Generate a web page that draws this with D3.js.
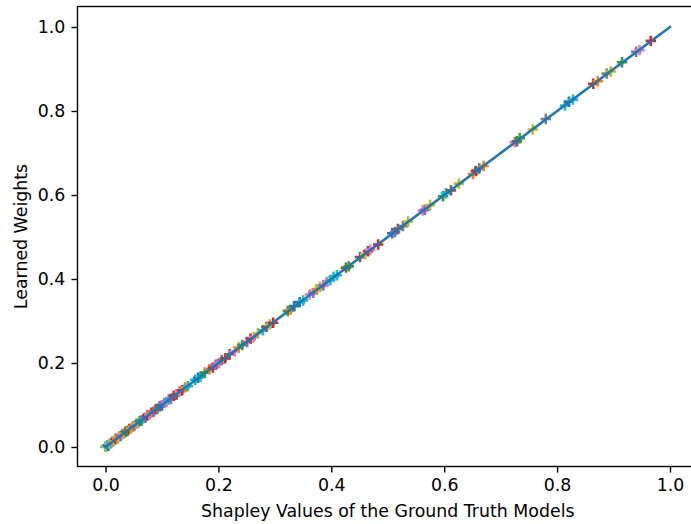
<!DOCTYPE html>
<html>
<head>
<meta charset="utf-8">
<script src="https://cdn.jsdelivr.net/npm/d3@7"></script>
<style>
  html, body { margin: 0; padding: 0; background: #fff; }
  svg { display: block; }
  text { font-family: "DejaVu Sans", sans-serif; }
</style>
</head>
<body>
<svg id="chart" width="691" height="524"></svg>
<script>
// ---- data ----
const shapley = [
  0.000,0.001,0.003,0.005,0.007,0.010,0.012,0.015,0.018,0.021,
  0.024,0.027,0.030,0.033,0.036,0.039,0.042,0.045,0.048,0.051,
  0.055,0.058,0.061,0.064,0.068,0.071,0.074,0.078,0.081,0.085,
  0.089,0.092,0.096,0.100,0.104,0.108,0.112,0.116,0.121,0.126,
  0.131,0.136,0.141,0.146,0.159,0.164,0.168,0.176,0.184,0.190,
  0.195,0.201,0.206,
  0.212,0.220,0.229,0.236,0.242,0.251,0.257,0.263,0.270,0.279,
  0.285,0.291,0.297,0.323,0.328,0.334,0.344,0.350,0.362,0.368,
  0.374,0.380,0.386,0.392,0.398,0.404,0.410,0.426,0.431,0.451,
  0.460,0.465,0.469,0.483,0.508,0.513,0.518,0.527,0.536,0.562,
  0.566,0.575,0.598,0.603,0.612,0.626,0.651,0.656,0.662,0.670,
  0.725,0.729,0.734,0.757,0.780,0.814,0.821,0.828,0.864,0.872,
  0.888,0.895,0.915,0.940,0.946,0.966
];
const learned = [
  0.001,0.000,0.004,0.003,0.008,0.009,0.013,0.014,0.019,0.020,
  0.025,0.026,0.031,0.032,0.037,0.038,0.043,0.044,0.049,0.050,
  0.056,0.057,0.062,0.063,0.069,0.070,0.075,0.077,0.082,0.084,
  0.090,0.091,0.097,0.099,0.105,0.107,0.113,0.115,0.122,0.125,
  0.132,0.135,0.142,0.145,0.160,0.165,0.167,0.177,0.185,0.189,
  0.196,0.200,0.207,
  0.211,0.221,0.228,0.237,0.243,0.250,0.258,0.262,0.271,0.278,
  0.286,0.292,0.296,0.324,0.327,0.335,0.345,0.349,0.363,0.367,
  0.375,0.381,0.385,0.393,0.397,0.405,0.409,0.427,0.430,0.452,
  0.459,0.466,0.470,0.482,0.509,0.512,0.519,0.526,0.537,0.563,
  0.565,0.576,0.597,0.604,0.611,0.627,0.650,0.657,0.663,0.669,
  0.726,0.728,0.735,0.756,0.781,0.813,0.822,0.827,0.865,0.871,
  0.889,0.894,0.916,0.941,0.945,0.967
];
const modelGroup = [
  9,8,9,0,8,9,6,8,3,1,
  8,4,6,8,5,2,3,8,1,7,
  6,8,0,2,9,4,3,6,1,4,
  3,7,5,0,4,6,9,4,3,5,
  6,3,1,9,9,0,9,2,1,3,
  4,6,7,
  3,5,6,1,2,4,3,6,8,9,
  5,8,3,2,1,0,0,9,6,4,
  1,8,4,6,9,9,9,5,2,5,
  8,3,6,3,0,4,5,7,8,6,
  4,8,2,9,5,8,1,3,0,1,
  6,5,2,8,7,9,0,9,3,1,
  7,8,2,7,6,3
];
const identityX = [0, 1];
const identityY = [0, 1];
const xTicks = [0, 0.2, 0.4, 0.6, 0.8, 1.0];
const yTicks = [0, 0.2, 0.4, 0.6, 0.8, 1.0];
const xLabel = "Shapley Values of the Ground Truth Models";
const yLabel = "Learned Weights";

// ---- layout ----
const svg = d3.select("#chart");
const frame = { left: 77.5, right: 698, top: 6.5, bottom: 466.5 };
const x = d3.scaleLinear().domain([0, 1]).range([105.5, 670]);
const y = d3.scaleLinear().domain([0, 1]).range([447, 27]);
const color = d3.scaleOrdinal().domain(d3.range(10)).range(d3.schemeCategory10);
const px = 125 / 72;

svg.append("defs").append("clipPath").attr("id", "clip")
  .append("rect")
  .attr("x", frame.left).attr("y", frame.top)
  .attr("width", frame.right - frame.left).attr("height", frame.bottom - frame.top);

const plot = svg.append("g").attr("clip-path", "url(#clip)");

const pts = shapley.map((d, i) => ({ x: d, y: learned[i], g: modelGroup[i] }));
const ms = 3 * px; // half marker size
plot.selectAll("path.pt").data(pts).enter().append("path")
  .attr("class", "pt")
  .attr("transform", d => `translate(${x(d.x)},${y(d.y)})`)
  .attr("d", `M${-ms},0H${ms}M0,${-ms}V${ms}`)
  .attr("stroke", d => color(d.g))
  .attr("stroke-width", 1.5 * px)
  .attr("fill", "none");

plot.append("path")
  .datum(identityX.map((d, i) => [d, identityY[i]]))
  .attr("d", d3.line().x(d => x(d[0])).y(d => y(d[1])))
  .attr("stroke", "#1f77b4")
  .attr("stroke-width", 1.5 * px)
  .attr("stroke-linecap", "square")
  .attr("fill", "none");

// axes
const fs = 10 * px;
const tickLen = 3.5 * px;
const xAxis = d3.axisBottom(x).tickValues(xTicks).tickFormat(d3.format(".1f"))
  .tickSize(tickLen).tickPadding(3.5 * px).tickSizeOuter(0);
const gx = svg.append("g").attr("transform", `translate(0,${frame.bottom})`).call(xAxis);
gx.select(".domain").remove();
gx.selectAll("line").attr("stroke", "#000").attr("stroke-width", 0.8 * px);
gx.selectAll("text").attr("font-size", fs).attr("fill", "#000")
  .attr("font-family", "DejaVu Sans, sans-serif");

const yAxis = d3.axisLeft(y).tickValues(yTicks).tickFormat(d3.format(".1f"))
  .tickSize(tickLen).tickPadding(3.5 * px).tickSizeOuter(0);
const gy = svg.append("g").attr("transform", `translate(${frame.left},0)`).call(yAxis);
gy.select(".domain").remove();
gy.selectAll("line").attr("stroke", "#000").attr("stroke-width", 0.8 * px);
gy.selectAll("text").attr("font-size", fs).attr("fill", "#000")
  .attr("font-family", "DejaVu Sans, sans-serif");

// frame (spines)
svg.append("rect")
  .attr("x", frame.left).attr("y", frame.top)
  .attr("width", frame.right - frame.left).attr("height", frame.bottom - frame.top)
  .attr("fill", "none").attr("stroke", "#000").attr("stroke-width", 0.8 * px);

// labels
svg.append("text")
  .attr("x", (frame.left + frame.right) / 2).attr("y", 517)
  .attr("text-anchor", "middle").attr("font-size", fs).attr("fill", "#000")
  .text(xLabel);
svg.append("text")
  .attr("transform", `translate(27,${(frame.top + frame.bottom) / 2}) rotate(-90)`)
  .attr("text-anchor", "middle").attr("font-size", fs).attr("fill", "#000")
  .text(yLabel);
</script>
</body>
</html>
